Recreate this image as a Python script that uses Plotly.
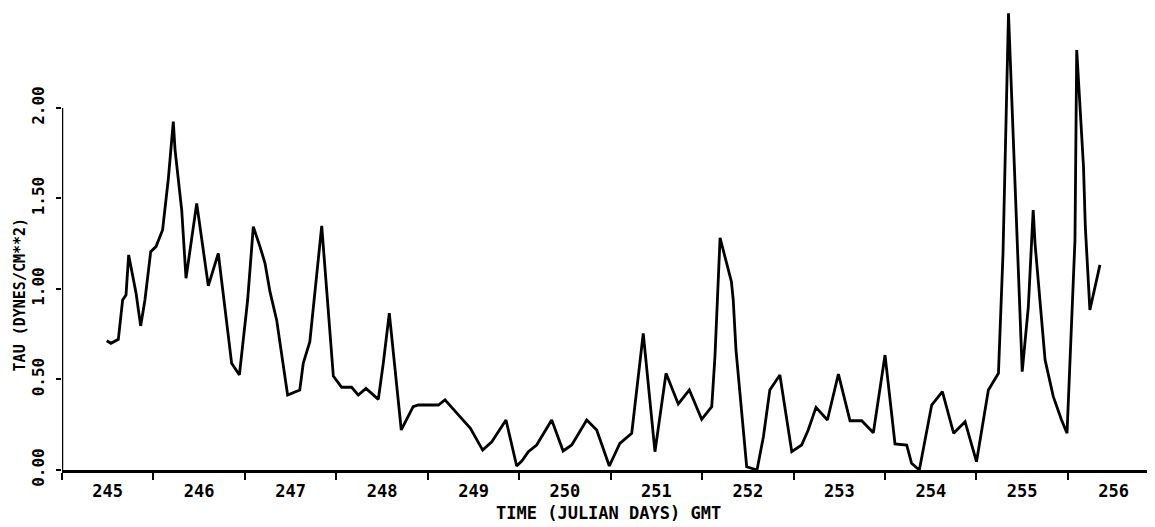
import plotly.graph_objects as go

# time (julian days, GMT) and wind stress
days = [245.489, 245.535, 245.616, 245.663, 245.70, 245.729, 245.81, 245.86, 245.907,
        245.97, 246.028, 246.10, 246.163, 246.217, 246.236, 246.309, 246.356, 246.473,
        246.60, 246.709, 246.855, 246.94, 247.03, 247.092, 247.165, 247.22, 247.274,
        247.347, 247.467, 247.60, 247.638, 247.71, 247.84, 247.967, 248.058, 248.167,
        248.24, 248.324, 248.459, 248.513, 248.579, 248.71, 248.84, 248.896, 249.02,
        249.115, 249.188, 249.316, 249.466, 249.60, 249.70, 249.855, 249.972, 250.03,
        250.10, 250.19, 250.355, 250.48, 250.574, 250.738, 250.847, 250.985, 251.10,
        251.23, 251.356, 251.484, 251.605, 251.739, 251.86, 251.995, 252.105, 252.14,
        252.196, 252.32, 252.34, 252.37, 252.43, 252.487, 252.60, 252.67, 252.74,
        252.85, 252.98, 253.088, 253.16, 253.245, 253.37, 253.49, 253.617, 253.745,
        253.872, 254.0, 254.109, 254.237, 254.29, 254.375, 254.51, 254.627, 254.75,
        254.875, 255.0, 255.13, 255.24, 255.29, 255.35, 255.44, 255.50, 255.567,
        255.62, 255.64, 255.75, 255.84, 255.93, 255.99, 256.077, 256.096, 256.17,
        256.19, 256.24, 256.35]
tau = [0.714, 0.700, 0.722, 0.939, 0.967, 1.188, 0.976, 0.796, 0.939,
       1.206, 1.234, 1.326, 1.61, 1.924, 1.77, 1.436, 1.059, 1.473,
       1.017, 1.197, 0.589, 0.525, 0.939, 1.344, 1.234, 1.142, 0.985,
       0.829, 0.414, 0.442, 0.589, 0.709, 1.348, 0.519, 0.457, 0.457,
       0.414, 0.451, 0.390, 0.589, 0.866, 0.221, 0.350, 0.359, 0.359,
       0.359, 0.387, 0.313, 0.230, 0.110, 0.156, 0.276, 0.022, 0.051,
       0.101, 0.138, 0.276, 0.105, 0.138, 0.276, 0.221, 0.022, 0.147,
       0.203, 0.755, 0.101, 0.534, 0.365, 0.442, 0.280, 0.350, 0.626,
       1.282, 1.04, 0.939, 0.663, 0.350, 0.018, 0.0, 0.184, 0.442,
       0.525, 0.101, 0.138, 0.221, 0.346, 0.276, 0.530, 0.272, 0.272,
       0.206, 0.635, 0.144, 0.138, 0.037, 0.0, 0.359, 0.433, 0.203,
       0.267, 0.046, 0.442, 0.534, 1.197, 2.523, 1.344, 0.543, 0.902,
       1.436, 1.252, 0.608, 0.405, 0.276, 0.203, 1.271, 2.320, 1.676,
       1.344, 0.884, 1.133]

day_labels = ["245", "246", "247", "248", "249", "250", "251", "252", "253", "254", "255", "256"]
day_starts = [245, 246, 247, 248, 249, 250, 251, 252, 253, 254, 255, 256]
y_ticks = [0.0, 0.5, 1.0, 1.5, 2.0]
y_ticktext = ["0.00", "0.50", "1.00", "1.50", "2.00"]

mono = "DejaVu Sans Mono"

fig = go.Figure()
fig.add_trace(go.Scatter(
    x=days, y=tau,
    mode='lines',
    line=dict(color='black', width=2.8),
    showlegend=False,
))

# y axis line only runs from 0 to 2.00
fig.add_shape(type='line', xref='x', yref='y',
              x0=day_starts[0], x1=day_starts[0], y0=y_ticks[0], y1=y_ticks[-1],
              line=dict(color='black', width=2.5))

# axis titles placed by hand
fig.add_annotation(
    text="TAU (DYNES/CM**2)",
    xref='paper', yref='y', x=-0.0384, y=0.97,
    xanchor='center', yanchor='middle',
    textangle=-90, showarrow=False,
    font=dict(family=mono, size=15, color='black', weight='bold'),
)
fig.add_annotation(
    text="TIME (JULIAN DAYS) GMT",
    xref='paper', yref='paper', x=0.5, y=-0.093,
    xanchor='center', yanchor='middle', showarrow=False,
    font=dict(family=mono, size=17, color='black', weight='bold'),
)

# page body has an 8px margin, so the figure is 8px smaller each way
fig.update_layout(
    width=1147, height=519,
    margin=dict(l=54, r=0, t=0, b=57),
    plot_bgcolor='white', paper_bgcolor='white',
    xaxis=dict(
        range=[245, 256.952],
        tickmode='array',
        tickvals=[d + 0.5 for d in day_starts],
        ticktext=day_labels,
        ticks='',
        ticklabelstandoff=4,
        showgrid=False, zeroline=False,
        showline=True, linecolor='black', linewidth=2.5,
        tickfont=dict(family=mono, size=17, color='black', weight='bold'),
        minor=dict(tickmode='array', tickvals=day_starts, ticks='outside',
                   ticklen=7, tickwidth=2, tickcolor='black', showgrid=False),
    ),
    yaxis=dict(
        range=[0, 2.552],
        tickmode='array',
        tickvals=y_ticks,
        ticktext=y_ticktext,
        tickangle=-90,
        ticks='outside', ticklen=5, tickwidth=2, tickcolor='black',
        ticklabelstandoff=6,
        showgrid=False, zeroline=False, showline=False,
        tickfont=dict(family=mono, size=16, color='black', weight='bold'),
    ),
)

fig.write_html("out.html")
